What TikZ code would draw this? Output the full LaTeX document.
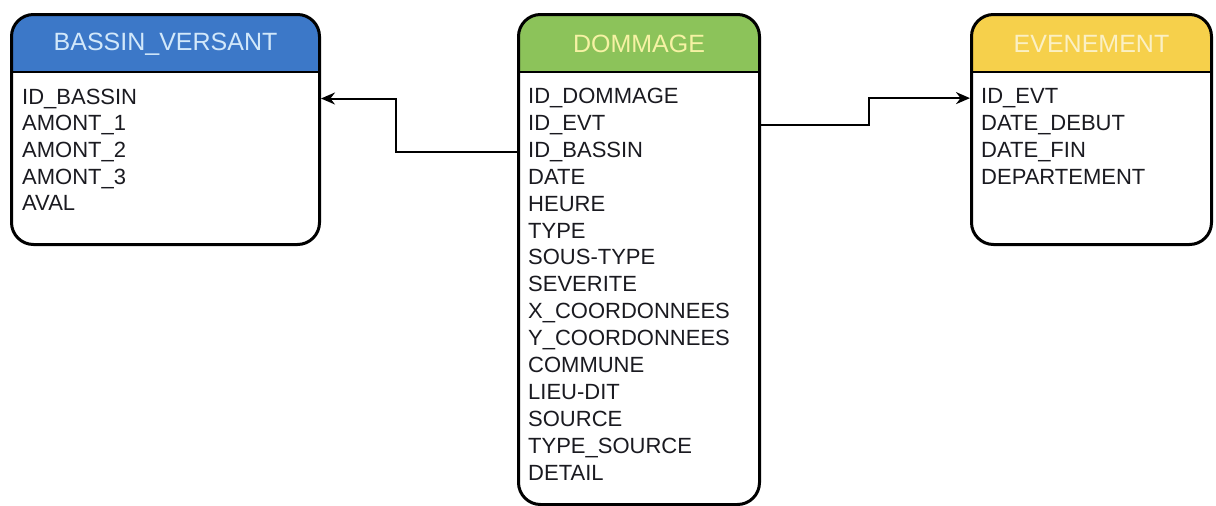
\documentclass[tikz,border=0pt]{standalone}
\usepackage{fontspec}
\setmainfont{Liberation Sans}
\usetikzlibrary{arrows.meta}
\definecolor{hblue}{HTML}{3C78C8}
\definecolor{hgreen}{HTML}{8CC35A}
\definecolor{hyellow}{HTML}{F6D04B}
\definecolor{tblue}{HTML}{D2E8FA}
\definecolor{tgreen}{HTML}{F6F2A4}
\definecolor{tyellow}{HTML}{FBF0C4}
\definecolor{fieldtext}{HTML}{1A1A20}
\begin{document}
\begin{tikzpicture}[x=1pt,y=-1pt,
  table/.style={draw=black, line width=3pt, rounded corners=22pt, fill=white,
    inner sep=0pt, anchor=north west,
    path picture={
      \fill[#1, sharp corners] (path picture bounding box.north west) rectangle ([yshift=-57pt]path picture bounding box.north east);
      \draw[line width=2pt, sharp corners] ([yshift=-57pt]path picture bounding box.north west) -- ([yshift=-57pt]path picture bounding box.north east);
    }},
  title/.style={font=\fontsize{25}{30}\selectfont, inner sep=0pt},
  field/.style={font=\fontsize{22}{26}\selectfont, text=fieldtext, inner sep=0pt, anchor=base west},
  conn/.style={draw=black, line width=2pt, -{Stealth[length=14pt,width=12pt]}}
]
\useasboundingbox (0,0) rectangle (1216,506);

\node[table=hblue, minimum width=308pt, minimum height=230pt] (bv) at (10,13) {};
\node[table=hgreen, minimum width=241pt, minimum height=490pt] (dm) at (517,13) {};
\node[table=hyellow, minimum width=240pt, minimum height=230pt] (ev) at (970,13) {};

\node[title, text=tblue] (bvt) at ([yshift=-31pt]bv.north) {BASSIN\_VERSANT};
\node[title, text=tgreen] (dmt) at ([yshift=-31pt]dm.north) {DOMMAGE};
\node[title, text=tyellow] (evt) at ([yshift=-31pt]ev.north) {EVENEMENT};

\foreach \t [count=\i] in {ID\_BASSIN, AMONT\_1, AMONT\_2, AMONT\_3, AVAL}
  \node[field] (bv-\i) at (22, {104+26.7*(\i-1)}) {\t};

\foreach \t [count=\i] in {ID\_DOMMAGE, ID\_EVT, ID\_BASSIN, DATE, HEURE, TYPE, SOUS-TYPE, SEVERITE, X\_COORDONNEES, Y\_COORDONNEES, COMMUNE, LIEU-DIT, SOURCE, TYPE\_SOURCE, DETAIL}
  \node[field] (dm-\i) at (528, {103.5+26.9*(\i-1)}) {\t};

\foreach \t [count=\i] in {ID\_EVT, DATE\_DEBUT, DATE\_FIN, DEPARTEMENT}
  \node[field] (ev-\i) at (981, {103.5+27*(\i-1)}) {\t};

\draw[conn] (dm.west |- dm-3) -- ++(-121pt,0) |- (bv.east |- bv-1);
\draw[conn] (dm.east |- dm-2) -- ++(108pt,0) |- (ev.west |- ev-1);
\end{tikzpicture}
\end{document}
